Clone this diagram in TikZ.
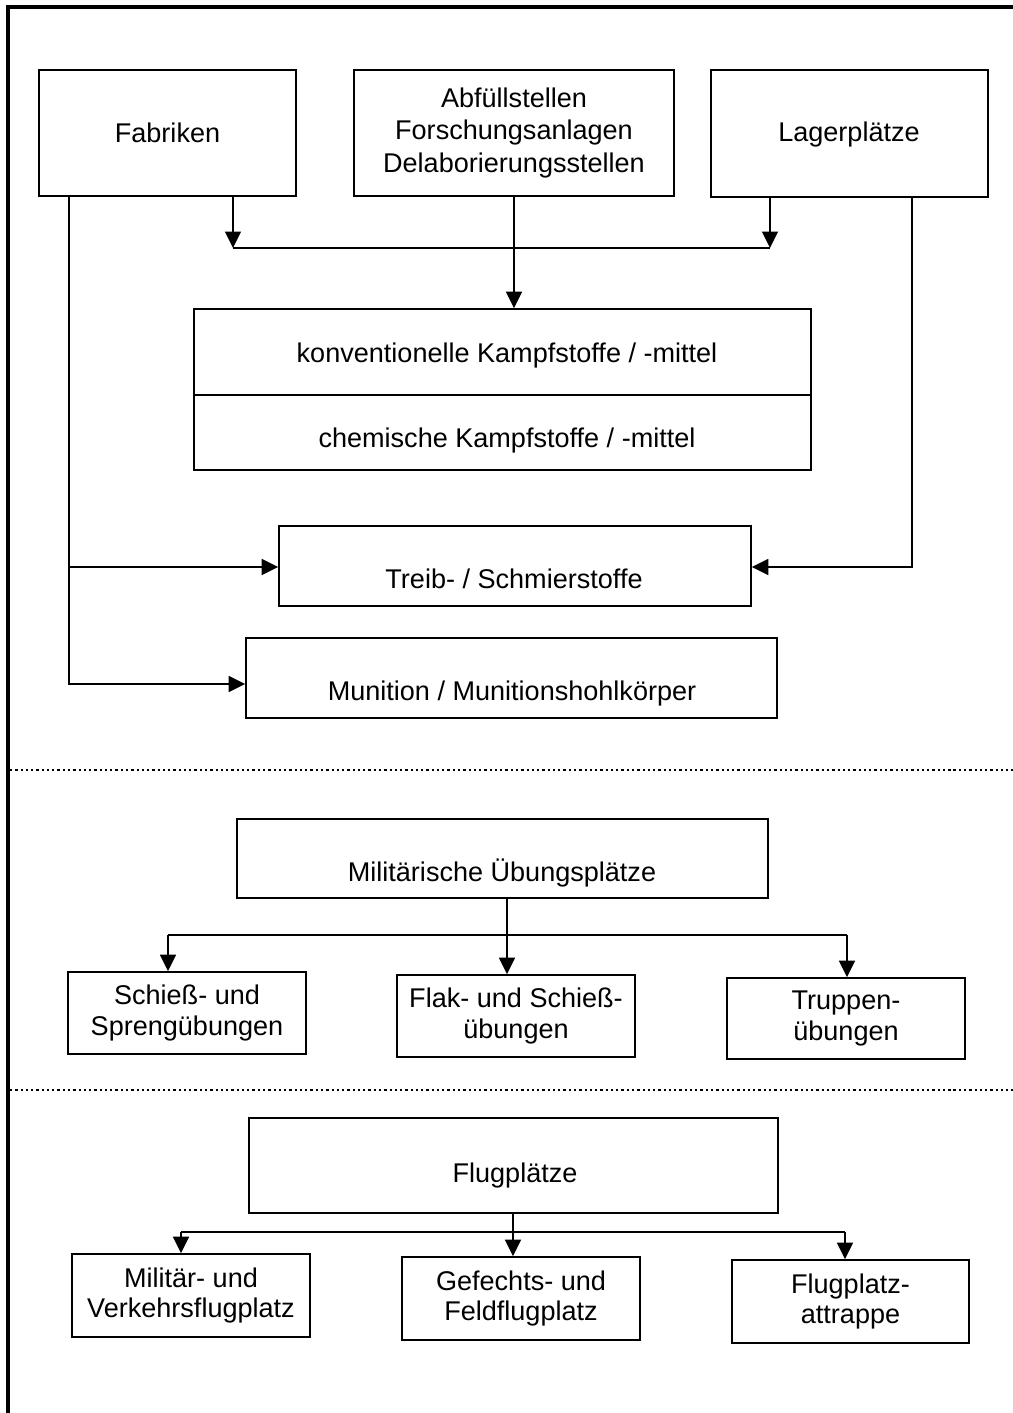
\documentclass[tikz,border=0pt]{standalone}
\usepackage{fontspec}
\setmainfont{Liberation Sans}
\usetikzlibrary{arrows.meta,fit}

\begin{document}
\begin{tikzpicture}[x=0.02cm, y=-0.02cm,
  font=\fontsize{15.4}{17.6}\selectfont,
  box/.style={draw, line width=1pt, inner sep=0pt},
  txt/.style={inner sep=0pt, align=center},
  lbl/.style={anchor=base, inner sep=0pt},
  line/.style={line width=1pt},
  arr/.style={line width=1pt, -{Triangle[length=0.33cm,width=0.32cm]}},
  frame/.style={line width=2pt},
  sep/.style={line width=1pt, dash pattern=on 1.3pt off 1.7pt}]
\useasboundingbox (0,0) rectangle (1013,1413);

% frame
\draw[frame] (8,1413) -- (8,7) -- (1013,7);

% sources
\node[box, fit={(39,70) (296,196)}] (fab) {};
\node[txt] (fab-t) at (fab) {Fabriken};
\node[box, fit={(354,70) (674,196)}] (abf) {};
\node[txt, font=\fontsize{15.4}{18.7}\selectfont] (abf-t) at (abf)
  {Abfüllstellen\\Forschungsanlagen\\Delaborierungsstellen};
\node[box, fit={(711,70) (988,197)}] (lag) {};
\node[lbl] (lag-t) at (849,141) {Lagerplätze};

% collecting line
\coordinate (j1) at (233,248);
\coordinate (j2) at (770,248);
\draw[arr] (fab.south -| j1) -- (j1);
\draw[arr] (lag.south -| j2) -- (j2);
\draw[line] (j1) -- (j2);

% kampfstoffe
\node[box, fit={(194,309) (811,395)}] (konv) {};
\node[lbl] (konv-t) at (507,362) {konventionelle Kampfstoffe / -mittel};
\node[box, fit={(194,395) (811,470)}] (chem) {};
\node[lbl] (chem-t) at (507,447) {chemische Kampfstoffe / -mittel};
\draw[arr] (abf.south) -- (abf.south |- konv.north);

% treib- und munition
\node[box, fit={(279,526) (751,606)}] (treib) {};
\node[lbl] (treib-t) at (514,588) {Treib- / Schmierstoffe};
\node[box, fit={(246,638) (777,718)}] (mun) {};
\node[lbl] (mun-t) at (512,700) {Munition / Munitionshohlkörper};

\coordinate (f1) at (69,567);
\coordinate (f2) at (69,684);
\coordinate (g1) at (912,567);
\draw[arr] (fab.south -| f1) -- (f2) -- (f2 -| mun.west);
\draw[arr] (f1) -- (f1 -| treib.west);
\draw[arr] (lag.south -| g1) -- (g1) -- (g1 -| treib.east);

% separators
\draw[sep] (10,770) -- (1013,770);
\draw[sep] (10,1090) -- (1013,1090);

% uebungsplaetze
\node[box, fit={(237,819) (768,898)}] (mil) {};
\node[lbl] (mil-t) at (502,881) {Militärische Übungsplätze};
\node[box, fit={(68,972) (306,1054)}] (schiess) {};
\node[txt] (schiess-t) at (schiess) {Schieß- und\\Sprengübungen};
\node[box, fit={(397,975) (635,1057)}] (flak) {};
\node[txt] (flak-t) at (flak) {Flak- und Schieß-\\übungen};
\node[box, fit={(727,978) (965,1059)}] (trupp) {};
\node[txt] (trupp-t) at (trupp) {Truppen-\\übungen};

\coordinate (m0) at (507,935);
\coordinate (mL) at (168,935);
\coordinate (mR) at (847,935);
\draw[line] (mil.south -| m0) -- (m0);
\draw[line] (mL) -- (mR);
\foreach \c/\n in {mL/schiess, m0/flak, mR/trupp}
  \draw[arr] (\c) -- (\c |- \n.north);

% flugplaetze
\node[box, fit={(249,1118) (778,1213)}] (flug) {};
\node[lbl] (flug-t) at (515,1182) {Flugplätze};
\node[box, fit={(72,1254) (310,1337)}] (milv) {};
\node[txt] (milv-t) at (milv) {Militär- und\\Verkehrsflugplatz};
\node[box, fit={(402,1257) (640,1340)}] (gef) {};
\node[txt] (gef-t) at (gef) {Gefechts- und\\Feldflugplatz};
\node[box, fit={(732,1260) (969,1343)}] (attr) {};
\node[txt] (attr-t) at (attr) {Flugplatz-\\attrappe};

\coordinate (a0) at (513,1232);
\coordinate (aL) at (181,1232);
\coordinate (aR) at (845,1232);
\draw[line] (flug.south -| a0) -- (a0);
\draw[line] (aL) -- (aR);
\foreach \c/\n in {aL/milv, a0/gef, aR/attr}
  \draw[arr] (\c) -- (\c |- \n.north);

\end{tikzpicture}
\end{document}
